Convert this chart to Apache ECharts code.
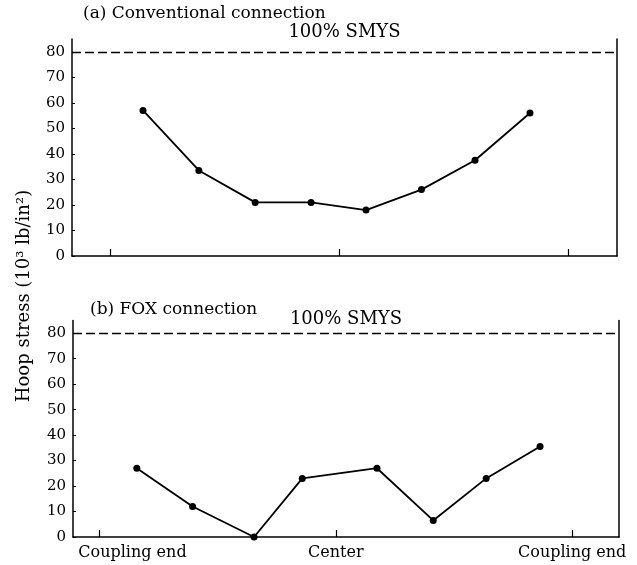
<!DOCTYPE html>
<html>
<head>
<meta charset="utf-8">
<script src="https://cdn.jsdelivr.net/npm/echarts@6/dist/echarts.min.js"></script>
<style>html,body{margin:0;padding:0;background:#fff;}#c{width:637px;height:565px;}</style>
</head>
<body>
<div id="c"></div>
<script>
// ---- data ----
var convPos = [0.072, 0.194, 0.317, 0.439, 0.559, 0.680, 0.797, 0.917];
var convStress = [57, 33.5, 21, 21, 18, 26, 37.5, 56];
var foxPos = [0.079, 0.197, 0.327, 0.429, 0.587, 0.706, 0.818, 0.932];
var foxStress = [27, 12, 0, 23, 27, 6.5, 23, 35.5];
var smysLevel = 80;
var yTicks = [0, 10, 20, 30, 40, 50, 60, 70, 80];
var xTickValues = [0, 0.5, 1];
var xTickLabels = ['Coupling end', 'Center', 'Coupling end'];
var panelTitles = ['(a) Conventional connection', '(b) FOX connection'];
var smysLabel = '100% SMYS';
var yAxisTitle = 'Hoop stress (10\u00b3 lb/in\u00b2)';

var FONT = '"DejaVu Serif", "Liberation Serif", serif';
var chart = echarts.init(document.getElementById('c'), null, {renderer: 'canvas'});

function pairs(xs, ys) { return xs.map(function (x, i) { return [x, ys[i]]; }); }

function leftY(gi) {
  return {
    type: 'value', gridIndex: gi, min: 0, max: 85, position: 'left',
    axisLine: {show: true, onZero: false, lineStyle: {color: '#000', width: 1.5}},
    axisTick: {show: true, inside: true, length: 3, customValues: yTicks, lineStyle: {color: '#000'}},
    axisLabel: {customValues: yTicks, color: '#000', fontFamily: FONT, fontSize: 15, margin: 7},
    splitLine: {show: false}
  };
}
function rightY(gi) {
  return {
    type: 'value', gridIndex: gi, min: 0, max: 85, position: 'right',
    axisLine: {show: true, onZero: false, lineStyle: {color: '#000', width: 1.5}},
    axisTick: {show: false}, axisLabel: {show: false}, splitLine: {show: false}
  };
}
function xAx(gi, mn, mx, labels) {
  return {
    type: 'value', gridIndex: gi, min: mn, max: mx,
    axisLine: {show: true, onZero: false, lineStyle: {color: '#000', width: 1.5}},
    axisTick: {show: true, inside: true, length: 7, customValues: xTickValues, lineStyle: {color: '#000', width: 1.2}},
    axisLabel: labels ? {
      show: true, customValues: xTickValues, color: '#000', fontFamily: FONT, fontSize: 16, margin: 8,
      formatter: function (v) {
        var i = xTickValues.indexOf(v);
        if (i === 0) return '{l|' + xTickLabels[i] + '}';
        return i >= 0 ? xTickLabels[i] : '';
      },
      rich: {l: {padding: [0, 0, 0, 66], fontFamily: FONT, fontSize: 16, color: '#000'}}
    } : {show: false},
    splitLine: {show: false}
  };
}
function lineSeries(xi, yi, data, labelDist) {
  return {
    type: 'line', xAxisIndex: xi, yAxisIndex: yi, data: data,
    symbol: 'circle', symbolSize: 7,
    lineStyle: {color: '#000', width: 1.8}, itemStyle: {color: '#000'},
    markLine: {
      silent: true, symbol: 'none', animation: false,
      lineStyle: {color: '#000', type: [9, 4], width: 1.4},
      label: {show: true, position: 'insideMiddleTop', formatter: smysLabel, color: '#000',
              fontFamily: FONT, fontSize: 18, distance: labelDist},
      data: [{yAxis: smysLevel}]
    }
  };
}

chart.setOption({
  animation: false,
  backgroundColor: '#fff',
  title: [
    {text: panelTitles[0], left: 78, top: 0, textStyle: {fontFamily: FONT, fontSize: 17, fontWeight: 'normal', color: '#000'}},
    {text: panelTitles[1], left: 85, top: 296, textStyle: {fontFamily: FONT, fontSize: 17, fontWeight: 'normal', color: '#000'}}
  ],
  grid: [
    {left: 72, right: 20, top: 39, bottom: 309},
    {left: 73, right: 18, top: 320.5, bottom: 28}
  ],
  xAxis: [xAx(0, -0.083, 1.107, false), xAx(1, -0.056, 1.099, true)],
  yAxis: [leftY(0), rightY(0), leftY(1), rightY(1)],
  series: [
    lineSeries(0, 0, pairs(convPos, convStress), 10),
    lineSeries(1, 2, pairs(foxPos, foxStress), 5)
  ],
  graphic: [{
    type: 'text', x: 24, y: 296, rotation: Math.PI / 2,
    style: {text: yAxisTitle, font: '18px ' + FONT, fill: '#000', align: 'center', verticalAlign: 'middle'}
  }]
});
</script>
</body>
</html>
